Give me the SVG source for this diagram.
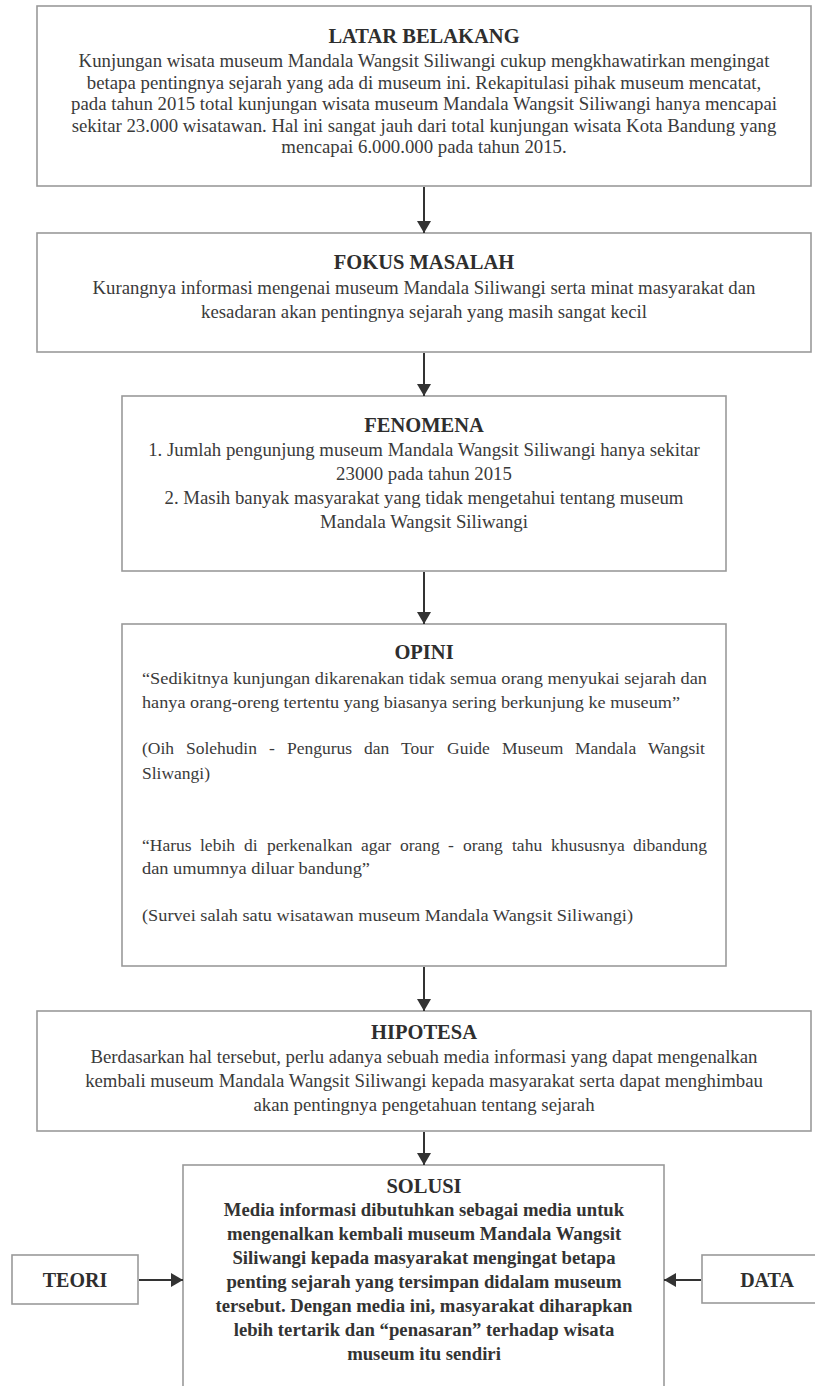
<svg xmlns="http://www.w3.org/2000/svg" width="815" height="1386" viewBox="0 0 815 1386">
<defs>
<style>
.box{fill:#fff;stroke:#9a9a9a;stroke-width:1.6}
.t{font-family:"Liberation Serif","Times New Roman",serif;fill:#3a3a3a}
.h{font-size:20.5px;font-weight:bold;text-anchor:middle;fill:#2e2e2e}
.b{font-size:18.8px;text-anchor:middle}
.l{font-size:17.5px}
.sb{font-size:18.7px;font-weight:bold;text-anchor:middle;fill:#333}
.conn{stroke:#333;stroke-width:2;fill:none}
</style>
<marker id="av" viewBox="0 0 12 14" markerWidth="12" markerHeight="14" refX="12" refY="7" orient="auto" markerUnits="userSpaceOnUse">
<path d="M0,0 L12,7 L0,14 Z" fill="#333"/>
</marker>
</defs>
<rect width="815" height="1386" fill="#fff"/>

<g id="latar-belakang">
<rect class="box" x="37" y="6" width="774" height="180"/>
<text class="t h" x="424" y="43">LATAR BELAKANG</text>
<text class="t b" x="424" y="67">Kunjungan wisata museum Mandala Wangsit Siliwangi cukup mengkhawatirkan mengingat</text>
<text class="t b" x="424" y="88.5">betapa pentingnya sejarah yang ada di museum ini. Rekapitulasi pihak museum mencatat,</text>
<text class="t b" x="424" y="110">pada tahun 2015 total kunjungan wisata museum Mandala Wangsit Siliwangi hanya mencapai</text>
<text class="t b" x="424" y="131.5">sekitar 23.000 wisatawan. Hal ini sangat jauh dari total kunjungan wisata Kota Bandung yang</text>
<text class="t b" x="424" y="153">mencapai 6.000.000 pada tahun 2015.</text>
</g>

<g id="fokus-masalah">
<rect class="box" x="37" y="233" width="774" height="119"/>
<text class="t h" x="424" y="269">FOKUS MASALAH</text>
<text class="t b" x="424" y="294">Kurangnya informasi mengenai museum Mandala Siliwangi serta minat masyarakat dan</text>
<text class="t b" x="424" y="318">kesadaran akan pentingnya sejarah yang masih sangat kecil</text>
</g>

<g id="fenomena">
<rect class="box" x="122" y="396" width="604" height="175"/>
<text class="t h" x="424" y="432">FENOMENA</text>
<text class="t b" x="424" y="456">1. Jumlah pengunjung museum Mandala Wangsit Siliwangi hanya sekitar</text>
<text class="t b" x="424" y="480">23000 pada tahun 2015</text>
<text class="t b" x="424" y="504">2. Masih banyak masyarakat yang tidak mengetahui tentang museum</text>
<text class="t b" x="424" y="528">Mandala Wangsit Siliwangi</text>
</g>

<g id="opini">
<rect class="box" x="122" y="624" width="604" height="342"/>
<text class="t h" x="424" y="659">OPINI</text>
<text class="t l" x="142" y="684" textLength="565" lengthAdjust="spacingAndGlyphs">“Sedikitnya kunjungan dikarenakan tidak semua orang menyukai sejarah dan</text>
<text class="t l" x="142" y="708" textLength="538" lengthAdjust="spacingAndGlyphs">hanya orang-oreng tertentu yang biasanya sering berkunjung ke museum”</text>
<text class="t l" y="754"><tspan x="142">(Oih</tspan><tspan x="186">Solehudin</tspan><tspan x="269">-</tspan><tspan x="287">Pengurus</tspan><tspan x="364">dan</tspan><tspan x="401">Tour</tspan><tspan x="447">Guide</tspan><tspan x="502">Museum</tspan><tspan x="575">Mandala</tspan><tspan x="648">Wangsit</tspan></text>
<text class="t l" x="142" y="779">Sliwangi)</text>
<text class="t l" y="851"><tspan x="142">“Harus</tspan><tspan x="200">lebih</tspan><tspan x="244">di</tspan><tspan x="267">perkenalkan</tspan><tspan x="361">agar</tspan><tspan x="400">orang</tspan><tspan x="448">-</tspan><tspan x="463">orang</tspan><tspan x="512">tahu</tspan><tspan x="551">khususnya</tspan><tspan x="633">dibandung</tspan></text>
<text class="t l" x="142" y="874" textLength="228" lengthAdjust="spacingAndGlyphs">dan umumnya diluar bandung”</text>
<text class="t l" x="142" y="921" textLength="491" lengthAdjust="spacingAndGlyphs">(Survei salah satu wisatawan museum Mandala Wangsit Siliwangi)</text>
</g>

<g id="hipotesa">
<rect class="box" x="37" y="1011" width="774" height="120"/>
<text class="t h" x="424" y="1039">HIPOTESA</text>
<text class="t b" x="424" y="1063">Berdasarkan hal tersebut, perlu adanya sebuah media informasi yang dapat mengenalkan</text>
<text class="t b" x="424" y="1087">kembali museum Mandala Wangsit Siliwangi kepada masyarakat serta dapat menghimbau</text>
<text class="t b" x="424" y="1111">akan pentingnya pengetahuan tentang sejarah</text>
</g>

<g id="solusi">
<rect class="box" x="183" y="1165" width="481" height="240"/>
<text class="t h" x="424" y="1193">SOLUSI</text>
<text class="t sb" x="424" y="1216">Media informasi dibutuhkan sebagai media untuk</text>
<text class="t sb" x="424" y="1240">mengenalkan kembali museum Mandala Wangsit</text>
<text class="t sb" x="424" y="1264">Siliwangi kepada masyarakat mengingat betapa</text>
<text class="t sb" x="424" y="1288">penting sejarah yang tersimpan didalam museum</text>
<text class="t sb" x="424" y="1312">tersebut. Dengan media ini, masyarakat diharapkan</text>
<text class="t sb" x="424" y="1336">lebih tertarik dan “penasaran” terhadap wisata</text>
<text class="t sb" x="424" y="1360">museum itu sendiri</text>
</g>

<g id="teori">
<rect class="box" x="12" y="1255" width="126" height="49"/>
<text class="t h" x="75" y="1287" style="font-size:20px">TEORI</text>
</g>

<g id="data">
<rect class="box" x="702" y="1255" width="130" height="48"/>
<text class="t h" x="767" y="1287" style="font-size:20px">DATA</text>
</g>

<g id="connectors">
<line class="conn" x1="424" y1="187" x2="424" y2="233" marker-end="url(#av)"/>
<line class="conn" x1="424" y1="353" x2="424" y2="396" marker-end="url(#av)"/>
<line class="conn" x1="424" y1="572" x2="424" y2="624" marker-end="url(#av)"/>
<line class="conn" x1="424" y1="967" x2="424" y2="1011" marker-end="url(#av)"/>
<line class="conn" x1="424" y1="1132" x2="424" y2="1165" marker-end="url(#av)"/>
<line class="conn" x1="139" y1="1280" x2="183" y2="1280" marker-end="url(#av)"/>
<line class="conn" x1="701" y1="1280" x2="664" y2="1280" marker-end="url(#av)"/>
</g>
</svg>
